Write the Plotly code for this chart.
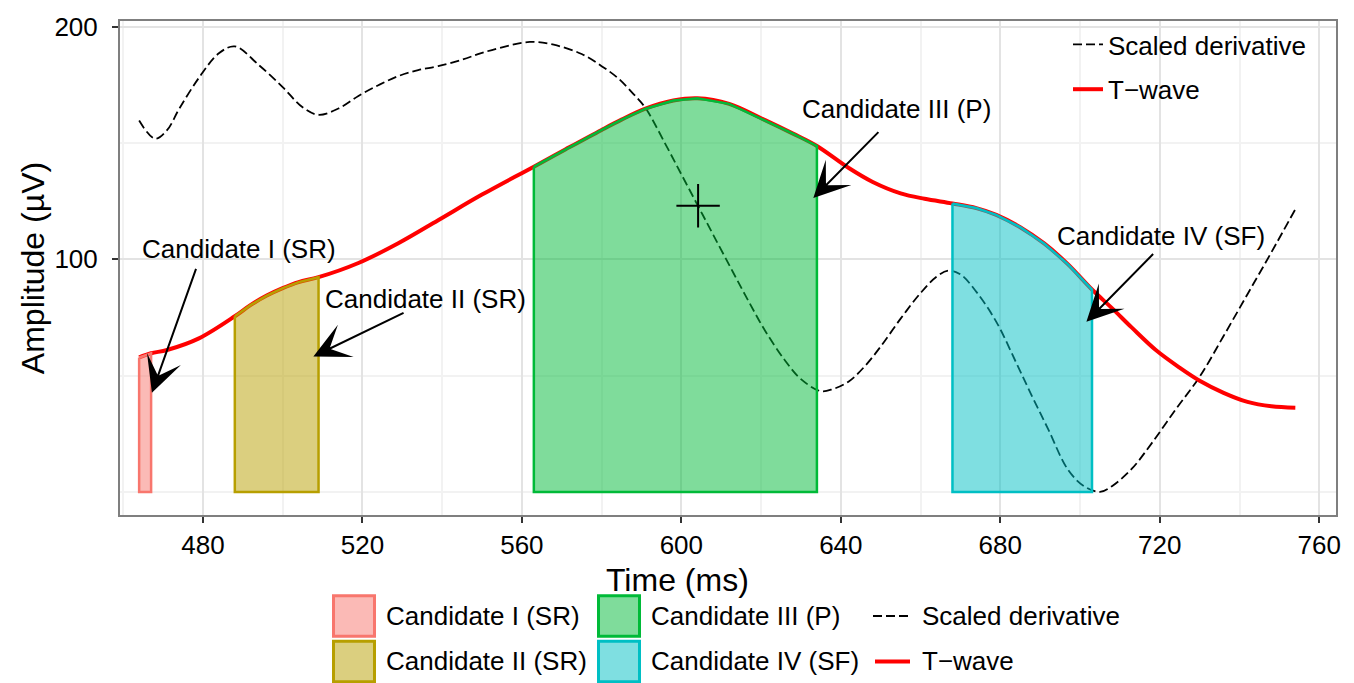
import plotly.graph_objects as go

# ---------------- data ----------------
twave_t = [464, 467, 471, 479, 488, 492, 496, 500, 504, 509, 519, 529, 539, 550,
           563, 571, 580, 585, 591, 598, 604, 612, 621, 628, 634, 642, 648, 655, 661,
           668, 674, 679, 685, 691, 697, 703, 708, 713, 719, 725, 730, 736, 742,
           748, 754]
twave_v = [57.8, 59.6, 61.0, 66.0, 75.5, 80.4, 84.4, 87.6, 90.2, 92.3, 98.4, 106.9,
           116.8, 127.8, 139.8, 147.3, 155.6, 160.0, 164.7, 168.2, 169.2, 166.8, 159.8,
           154.0, 148.7, 139.2, 133.2, 128.3, 126.0, 124.0, 122.0, 119.1, 113.8,
           106.8, 97.8, 87.0, 79.0, 70.6, 61.0, 53.4, 47.8, 42.6, 38.7, 36.8, 36.2]

deriv_t = [464, 468, 471, 474, 479, 484, 488, 494, 500, 505, 509, 514, 519, 524,
           529, 534, 539, 545, 550, 556, 562, 568, 575, 580, 584, 588, 591, 596,
           600, 604, 608, 613, 617, 621, 626, 630, 635, 638, 642, 646, 650, 655,
           660, 664, 667, 670, 674, 679, 684, 688, 692, 697, 701, 705, 708, 713,
           718, 724, 730, 736, 742, 748, 754]
deriv_v = [159.6, 151.8, 155.5, 164.5, 178.0, 188.5, 191.5, 183.5, 174.0, 165.3,
           162.1, 164.8, 170.2, 174.8, 178.7, 181.3, 183.0, 185.8, 188.7, 191.5,
           193.4, 192.2, 188.2, 183.0, 178.0, 171.0, 165.0, 149.5, 136.5, 123.5,
           110.5, 94.3, 81.5, 69.3, 56.5, 48.5, 43.3, 44.2, 47.5, 54.0, 62.5, 74.5,
           85.5, 92.5, 95.1, 93.5, 86.0, 73.1, 55.5, 41.0, 27.0, 9.5, 2.5, 0.0, 2.5,
           10.0, 21.0, 35.5, 49.5, 67.0, 85.0, 103.0, 121.5]

cand_names = ["Candidate I (SR)", "Candidate II (SR)", "Candidate III (P)", "Candidate IV (SF)"]
cand_start = [464, 488, 563, 668]
cand_end = [467, 509, 634, 703]
cand_colors = ["#F8766D", "#B79F00", "#00BA38", "#00BFC4"]
cand_fills = ["rgba(248,118,109,0.5)", "rgba(183,159,0,0.5)", "rgba(0,186,56,0.5)", "rgba(0,191,196,0.5)"]

# annotation label centres and arrow geometry (data units)
label_t = [489.0, 535.7, 654.0, 720.2]
label_v = [104.3, 83.0, 164.6, 110.0]
arrow_tail_t = [478.4, 530.7, 649.8, 718.7]
arrow_tail_v = [96.5, 77.3, 155.3, 102.9]
arrow_head_t = [467.2, 507.7, 633.1, 701.6]
arrow_head_v = [42.6, 58.2, 126.3, 73.1]

cross_t = [604.2]
cross_v = [123.0]

x_ticks = [480, 520, 560, 600, 640, 680, 720, 760]
y_ticks = [100, 200]

FONT = "Liberation Sans, Arial, Helvetica, sans-serif"

fig = go.Figure()

fig.add_trace(go.Scatter(
    x=deriv_t, y=deriv_v, mode="lines", name="Scaled derivative",
    line=dict(color="black", width=1.8, dash="9px,4px", shape="spline"),
    legendgroup="a"))
fig.add_trace(go.Scatter(
    x=twave_t, y=twave_v, mode="lines", name="T\u2212wave",
    line=dict(color="#FF0000", width=4, shape="spline"),
    legendgroup="b"))

for name, s, e, col, fc in zip(cand_names, cand_start, cand_end, cand_colors, cand_fills):
    ts = [t for t in twave_t if s <= t <= e]
    vs = [v for t, v in zip(twave_t, twave_v) if s <= t <= e]
    fig.add_trace(go.Scatter(
        x=ts + [e, s, ts[0]], y=vs + [0, 0, vs[0]], mode="lines", fill="toself",
        fillcolor=fc, line=dict(color=col, width=2.5), name=name,
        showlegend=False, hoverinfo="name"))

fig.add_trace(go.Scatter(
    x=cross_t, y=cross_v, mode="markers", showlegend=False,
    marker=dict(symbol="cross-thin", size=31, line=dict(width=2, color="black"))))

annotations = []
for name, lt, lv, tt, tv, ht, hv in zip(cand_names, label_t, label_v, arrow_tail_t,
                                         arrow_tail_v, arrow_head_t, arrow_head_v):
    annotations.append(dict(x=lt, y=lv, xref="x", yref="y", text=name, showarrow=False,
                            font=dict(size=26, color="black"), xanchor="center", yanchor="middle"))
    annotations.append(dict(x=ht, y=hv, ax=tt, ay=tv, xref="x", yref="y", axref="x", ayref="y",
                            text="", showarrow=True, arrowhead=3, arrowsize=3, arrowwidth=2,
                            arrowcolor="black", standoff=0, startstandoff=0))

PW, PH = 1216.0, 499.0


def px(xp):
    return (xp - 120) / PW


def py(yp):
    return (515 - yp) / PH


# x axis title
annotations.append(dict(x=px(677), y=py(581), xref="paper", yref="paper",
                        text="Time (ms)", showarrow=False, font=dict(size=32, color="black"),
                        xanchor="center", yanchor="middle"))

# bottom legend
shapes = []
box_x = [333.5, 333.5, 598.5, 598.5]
box_y = [596.5, 642.5, 596.5, 642.5]
text_x = [384, 384, 649, 649]
text_y = [617, 662, 617, 662]
for name, col, fc, bx, by, tx, ty in zip(cand_names, cand_colors, cand_fills, box_x, box_y, text_x, text_y):
    shapes.append(dict(type="rect", xref="paper", yref="paper", x0=px(bx), x1=px(bx + 41),
                       y0=py(by + 41), y1=py(by), fillcolor=fc, line=dict(color=col, width=3)))
    annotations.append(dict(x=px(tx), y=py(ty), xref="paper", yref="paper", text=name,
                            showarrow=False, font=dict(size=26, color="black"),
                            xanchor="left", yanchor="middle"))

shapes.append(dict(type="line", xref="paper", yref="paper", x0=px(873), x1=px(910),
                   y0=py(617), y1=py(617), line=dict(color="black", width=1.8, dash="9px,4px")))
shapes.append(dict(type="line", xref="paper", yref="paper", x0=px(875), x1=px(910),
                   y0=py(663), y1=py(663), line=dict(color="#FF0000", width=4)))
annotations.append(dict(x=px(920), y=py(617), xref="paper", yref="paper", text="Scaled derivative",
                        showarrow=False, font=dict(size=26, color="black"), xanchor="left", yanchor="middle"))
annotations.append(dict(x=px(920), y=py(662), xref="paper", yref="paper", text="T\u2212wave",
                        showarrow=False, font=dict(size=26, color="black"), xanchor="left", yanchor="middle"))

axis_common = dict(showgrid=True, gridcolor="#E3E3E3", gridwidth=1.5, zeroline=False,
                   ticks="outside", ticklen=6, tickwidth=2, tickcolor="#333333",
                   showline=True, linecolor="#7F7F7F", linewidth=2, mirror=True,
                   tickfont=dict(size=26, color="black"))

fig.update_layout(
    width=1354, height=683,
    margin=dict(l=120, r=18, t=16, b=168),
    plot_bgcolor="white", paper_bgcolor="white",
    font=dict(family=FONT, size=26, color="black"),
    showlegend=True,
    legend=dict(x=px(1068), xanchor="left", y=1.0, yanchor="top",
                bgcolor="rgba(0,0,0,0)", font=dict(size=26), tracegroupgap=8),
    xaxis=dict(range=[459.2, 764.2], tickvals=x_ticks,
               minor=dict(dtick=20, tick0=0, showgrid=True, gridcolor="#F2F2F2", gridwidth=1.5, ticks=""),
               **axis_common),
    yaxis=dict(range=[-9.9, 202.4], tickvals=y_ticks, ticklabelstandoff=9,
               minor=dict(tickvals=[0, 50, 150], showgrid=True, gridcolor="#F2F2F2", gridwidth=1.5, ticks=""),
               title=dict(text="Amplitude (\u00b5V)", font=dict(size=32, color="black"), standoff=0),
               **axis_common),
    annotations=annotations,
    shapes=shapes,
)

fig.write_html("out.html", config={"displayModeBar": False},
               post_script="document.body.style.margin='0';document.body.style.overflow='hidden';")
